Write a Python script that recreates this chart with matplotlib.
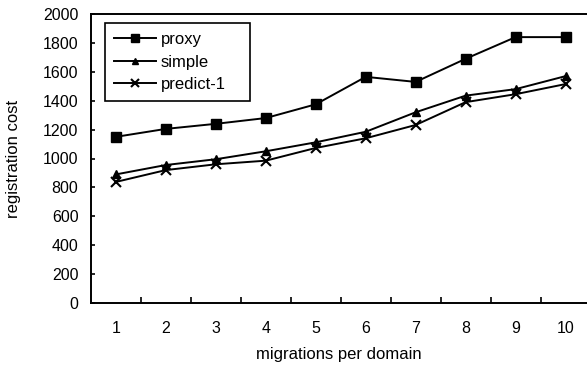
import matplotlib
matplotlib.use("Agg")
import matplotlib.pyplot as plt
from matplotlib.ticker import FixedLocator

plt.rcParams['font.family'] = ['Liberation Sans', 'DejaVu Sans']

x = [1, 2, 3, 4, 5, 6, 7, 8, 9, 10]
proxy = [1150, 1205, 1240, 1280, 1375, 1565, 1530, 1690, 1840, 1840]
simple = [890, 955, 995, 1050, 1112, 1185, 1320, 1435, 1480, 1570]
predict1 = [838, 920, 960, 985, 1073, 1140, 1232, 1390, 1445, 1515]
yticks = [0, 200, 400, 600, 800, 1000, 1200, 1400, 1600, 1800, 2000]

fig = plt.figure(figsize=(5.87, 3.65), dpi=100)
ax = fig.add_axes([91/587, 62/365, 1 - 91/587, (303-14)/365])

ax.plot(x, proxy, color='black', lw=1.4, marker='s', ms=6.5, label='proxy')
ax.plot(x, simple, color='black', lw=1.4, marker='^', ms=6, label='simple')
ax.plot(x, predict1, color='black', lw=1.4, marker='x', ms=6.5, mew=1.5, label='predict-1')

ax.set_xlim(0.5, 10.43)
ax.set_ylim(0, 2000)
ax.set_yticks(yticks)
ax.set_xticks(x)
ax.xaxis.set_minor_locator(FixedLocator([i + 0.5 for i in x[:-1]]))
ax.tick_params(axis='x', which='major', length=0, pad=13, labelsize=11.5)
ax.tick_params(axis='x', which='minor', direction='in', length=4, width=1.2)
ax.tick_params(axis='y', direction='in', length=3, width=1.2, labelsize=11.5, pad=9)
ax.spines['right'].set_visible(False)
for s in ['left', 'bottom', 'top']:
    ax.spines[s].set_linewidth(1.4)

ax.set_xlabel('migrations per domain', fontsize=12, labelpad=8)
ax.set_ylabel('registration cost', fontsize=12, labelpad=16)

leg = ax.legend(loc='upper left', bbox_to_anchor=(14/496, 0, 145/496, 280/289), mode='expand',
                frameon=True, fancybox=False, markerscale=0.8, framealpha=1,
                edgecolor='black', fontsize=12, handlelength=2.5, borderpad=0.55,
                labelspacing=0.45, handletextpad=0.3, borderaxespad=0)
leg.get_frame().set_linewidth(1.2)

fig.savefig('out.png', dpi=100)
